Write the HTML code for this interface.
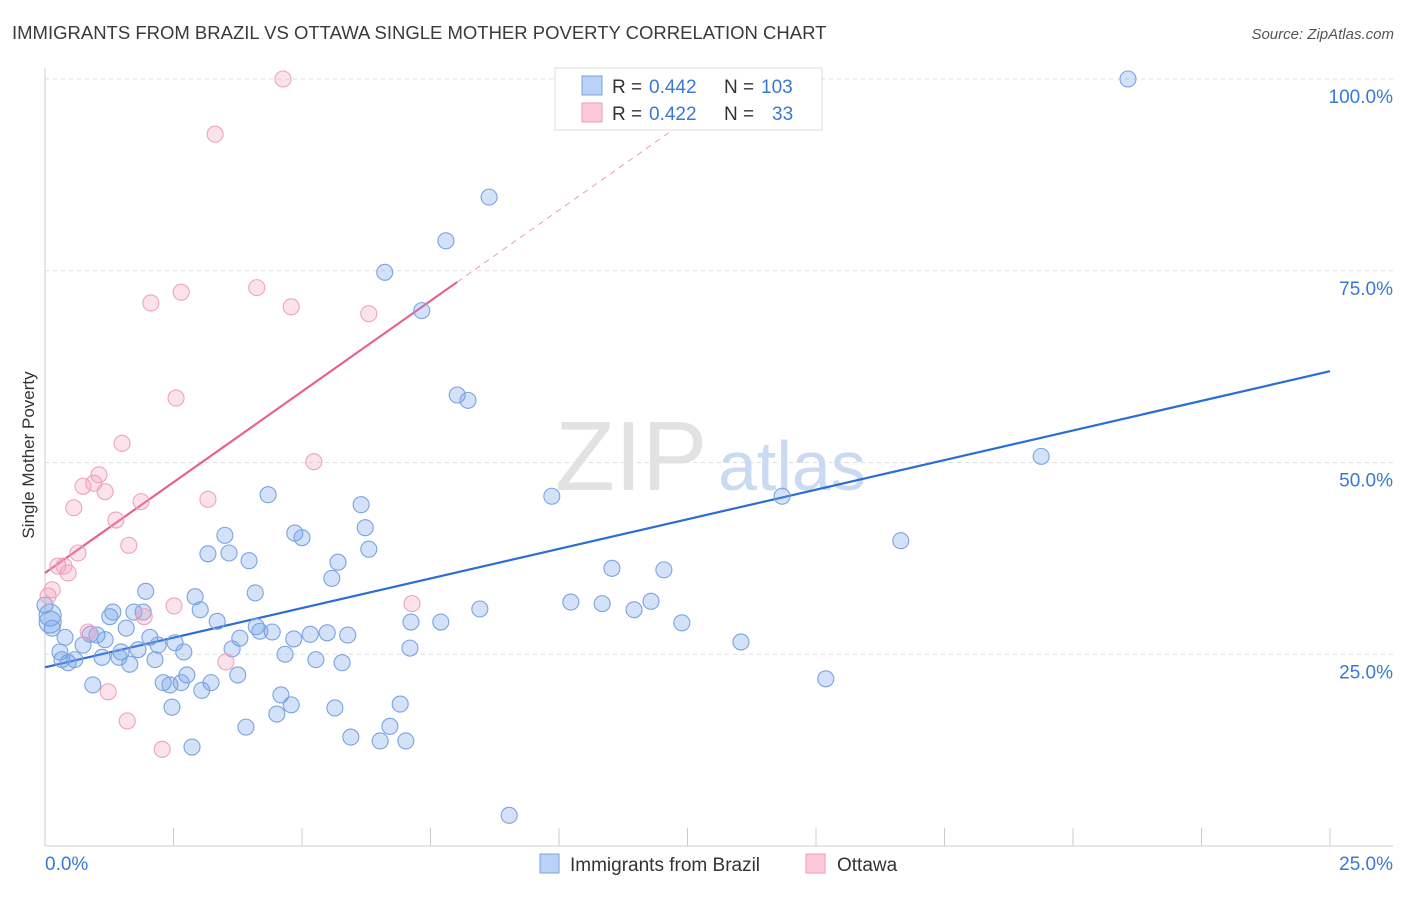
<!DOCTYPE html>
<html><head><meta charset="utf-8"><style>
body{margin:0;background:#fff;font-family:"Liberation Sans",sans-serif;}
svg text{font-family:"Liberation Sans",sans-serif;}
</style></head><body>
<svg id="chart" width="1406" height="892" xmlns="http://www.w3.org/2000/svg">
<text x="12" y="39" font-size="18.5" fill="#3a3a3a">IMMIGRANTS FROM BRAZIL VS OTTAWA SINGLE MOTHER POVERTY CORRELATION CHART</text>
<text x="1394" y="39" font-size="15" fill="#555" text-anchor="end" font-style="italic">Source: ZipAtlas.com</text>
<g id="grid"></g>
<g>
<text x="555" y="490" font-family="Liberation Serif" font-size="98" fill="#e2e2e2">ZIP</text>
<text x="718" y="490" font-size="70" fill="#c9daf2">atlas</text>
</g>
<line x1="45" y1="846" x2="1393" y2="846" stroke="#ccc"/>
<line x1="45" y1="68" x2="45" y2="846" stroke="#ccc"/>
<g id="xticks"></g>
<g id="trend"></g>
<g id="points"></g>
<text transform="translate(34,455) rotate(-90)" font-size="17" fill="#333" text-anchor="middle">Single Mother Poverty</text>
<text x="45" y="870" font-size="19" fill="#3a78d6">0.0%</text>
<text x="1393" y="870" font-size="19" fill="#3a78d6" text-anchor="end">25.0%</text>
<g>
<rect x="555" y="68" width="267" height="62" fill="#fff" stroke="#ddd"/>
<rect x="582" y="76" width="20" height="19" fill="#b9d2f5" stroke="#7aa3e0"/>
<rect x="582" y="103" width="20" height="19" fill="#fcc9d8" stroke="#ee9ab7"/>
<text x="612" y="93" font-size="19" fill="#333">R =</text>
<text x="649" y="93" font-size="19" fill="#3a78d6">0.442</text>
<text x="724" y="93" font-size="19" fill="#333">N =</text>
<text x="761" y="93" font-size="19" fill="#3a78d6">103</text>
<text x="612" y="120" font-size="19" fill="#333">R =</text>
<text x="649" y="120" font-size="19" fill="#3a78d6">0.422</text>
<text x="724" y="120" font-size="19" fill="#333">N =</text>
<text x="772" y="120" font-size="19" fill="#3a78d6">33</text>
</g>
<g>
<rect x="540" y="854" width="19" height="19" fill="#b9d2f5" stroke="#7aa3e0"/>
<text x="570" y="871" font-size="19" fill="#333">Immigrants from Brazil</text>
<rect x="806" y="854" width="19" height="19" fill="#fcc9d8" stroke="#ee9ab7"/>
<text x="837" y="871" font-size="19" fill="#333">Ottawa</text>
</g>
</svg>
<script>
const yTicks=[25,50,75,100];
const yTickLabels=["25.0%","50.0%","75.0%","100.0%"];
const xTicks=[0,2.5,5,7.5,10,12.5,15,17.5,20,22.5,25];
const brazilX=[21.07,8.64,7.80,6.61,7.33,8.02,8.23,19.38,9.86,14.34,4.34,6.15,6.23,3.50,4.86,5.00,6.30,3.17,3.58,3.97,5.70,5.58,16.65,11.03,12.04,1.96,2.92,4.09,10.23,10.84,11.79,11.46,8.46,1.32,1.73,1.91,3.02,1.26,3.35,7.12,7.70,12.39,4.11,1.58,4.18,4.42,5.89,5.49,5.16,4.84,3.79,2.04,13.54,0.10,0.10,0.39,1.01,0.88,1.17,0.74,2.53,2.20,2.70,1.81,3.64,0.29,1.48,4.67,7.10,5.27,5.78,1.11,1.44,1.65,2.14,0.58,0.45,2.76,3.75,15.19,2.30,2.43,2.65,3.23,0.93,3.05,4.59,6.91,4.79,2.47,5.64,4.51,3.91,6.71,5.95,6.52,7.02,2.86,9.03,0.0,0.14,0.33];
const brazilY=[100.0,84.6,78.9,74.8,69.8,58.8,58.1,50.8,45.6,45.6,45.8,44.5,41.5,40.5,40.8,40.2,38.7,38.1,38.2,37.2,37.0,34.9,39.8,36.2,36.0,33.2,32.5,33.0,31.8,31.6,31.9,30.8,30.9,30.5,30.5,30.5,30.8,29.9,29.3,29.2,29.2,29.1,28.6,28.4,28.0,27.9,27.5,27.8,27.6,27.0,27.1,27.2,26.6,30.1,29.2,27.2,27.5,27.6,26.9,26.2,26.5,26.2,25.3,25.6,25.7,25.3,25.3,25.0,25.8,24.3,23.9,24.6,24.6,23.7,24.3,24.3,23.9,22.3,22.3,21.8,21.3,21.0,21.3,21.3,21.0,20.3,19.7,18.5,18.4,18.1,18.0,17.2,15.5,15.6,14.2,13.7,13.7,12.9,4.0,31.4,28.4,24.3];
const ottawaX=[4.63,3.31,2.65,2.06,4.12,4.79,6.30,2.55,1.50,5.23,1.05,0.95,0.74,1.17,3.17,1.87,0.56,1.38,1.63,0.64,0.25,0.37,0.45,0.14,0.06,2.51,7.14,1.93,0.84,3.52,1.23,1.60,2.28];
const ottawaY=[100.0,92.8,72.2,70.8,72.8,70.3,69.4,58.4,52.5,50.1,48.4,47.3,46.9,46.2,45.2,44.9,44.1,42.5,39.2,38.2,36.5,36.5,35.6,33.4,32.6,31.3,31.6,29.9,27.9,24.0,20.1,16.3,12.6];
const brazilTrend=[23.3,61.9];
const ottawaTrend=[35.6,4.73];
const NS="http://www.w3.org/2000/svg";
const sx=v=>45+v*(1285/25), sy=v=>846-v*7.67;
function mk(tag,attrs,parent){const e=document.createElementNS(NS,tag);for(const k in attrs)e.setAttribute(k,attrs[k]);document.getElementById(parent).appendChild(e);return e;}
yTicks.forEach((t,i)=>{
 const l=mk('line',{x1:45,x2:1393,y1:sy(t),y2:sy(t),stroke:'#ddd','stroke-dasharray':'4,4'},'grid');
 
 
 const tx=mk('text',{x:1393,y:sy(t)+24,'font-size':19,fill:'#3a78d6','text-anchor':'end'},'grid');
 tx.textContent=yTickLabels[i];
 
 
});
xTicks.forEach(t=>{
 const l=mk('line',{x1:sx(t),x2:sx(t),y1:828,y2:846,stroke:'#ccc'},'xticks');
 
 
});
const bl=mk('line',{x1:sx(0),y1:sy(brazilTrend[0]),x2:sx(25),y2:sy(brazilTrend[1]),stroke:'#2a6dd4','stroke-width':2.2},'trend');


const xe=(100-ottawaTrend[0])/ottawaTrend[1];
const od=mk('line',{x1:sx(8.02),y1:sy(ottawaTrend[0]+ottawaTrend[1]*8.02),x2:sx(xe),y2:sy(100),stroke:'#e8a0b8','stroke-width':1,'stroke-dasharray':'6,5'},'trend');


const ol=mk('line',{x1:sx(0),y1:sy(ottawaTrend[0]),x2:sx(8.02),y2:sy(ottawaTrend[0]+ottawaTrend[1]*8.02),stroke:'#e8628f','stroke-width':2.2},'trend');


brazilX.forEach((x,i)=>{
 const c=mk('circle',{cx:sx(x),cy:sy(brazilY[i]),r:(i>=53&&i<=54)?11:8,fill:'rgba(110,160,235,0.3)',stroke:'#7aa3e0','stroke-width':1.1},'points');
 
 
});
ottawaX.forEach((x,i)=>{
 const c=mk('circle',{cx:sx(x),cy:sy(ottawaY[i]),r:8,fill:'rgba(245,160,190,0.3)',stroke:'#eea3bd','stroke-width':1.1},'points');
 
 
});
</script>
</body></html>
